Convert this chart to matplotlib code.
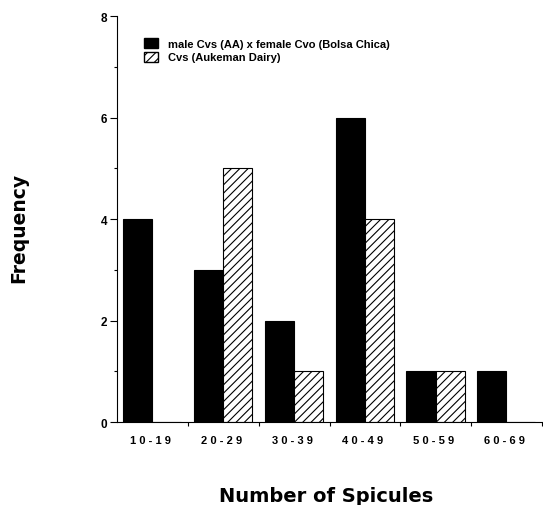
import matplotlib
matplotlib.use('Agg')
import matplotlib.pyplot as plt
import numpy as np
from matplotlib.patches import Patch

# data
ranges = ['10-19', '20-29', '30-39', '40-49', '50-59', '60-69']
hybrid = [4, 3, 2, 6, 1, 1]        # male Cvs (AA) x female Cvo (Bolsa Chica)
aukeman = [0, 5, 1, 4, 1, 0]       # Cvs (Aukeman Dairy)

plt.rcParams['font.family'] = ['Liberation Sans', 'DejaVu Sans']
plt.rcParams['font.weight'] = 'bold'
plt.rcParams['hatch.linewidth'] = 0.8

fig = plt.figure(figsize=(5.43, 5.06), dpi=100)
ax = fig.add_axes([0.2155, 0.164, 0.783, 0.802])

x = np.arange(len(ranges))
w = 0.41
off = 0.085
ax.bar(x + off, hybrid, width=w, align='edge', color='black', edgecolor='black', lw=0.8)
ax.bar(x + off + w, aukeman, width=w, align='edge', color='white', edgecolor='black',
       hatch='////', lw=0.8)

ax.set_xlim(0, 6)
ax.set_ylim(0, 8)
ax.spines['top'].set_visible(False)
ax.spines['right'].set_visible(False)

# y ticks
ax.set_yticks([0, 2, 4, 6, 8])
ax.set_yticks([1, 3, 5, 7], minor=True)
ax.tick_params(axis='y', which='major', length=5, width=0.8, labelsize=8.5, pad=2)
ax.tick_params(axis='y', which='minor', length=2, width=0.8)

# x labels centred in each group, small ticks at group boundaries
ax.set_xticks(x + 0.47)
ax.set_xticklabels([' '.join(r) for r in ranges], fontsize=8)
ax.tick_params(axis='x', which='major', length=0, pad=9)
ax.set_xticks(np.arange(1, 7), minor=True)
ax.tick_params(axis='x', which='minor', length=3, width=0.8, direction='out')

fig.text(0.601, 0.018, 'Number of Spicules', ha='center', va='center', fontsize=14,
         fontweight='bold', family='DejaVu Sans')
fig.text(0.034, 0.549, 'Frequency', ha='center', va='center', rotation=90, fontsize=13.5,
         fontweight='bold', family='DejaVu Sans')

handles = [Patch(facecolor='black', edgecolor='black'),
           Patch(facecolor='white', edgecolor='black', hatch='////')]
ax.legend(handles, ['male Cvs (AA) x female Cvo (Bolsa Chica)', 'Cvs (Aukeman Dairy)'],
          loc='upper left', bbox_to_anchor=(0.063, 0.946), frameon=False, fontsize=8,
          handlelength=1.3, handleheight=1.0, handletextpad=0.9, labelspacing=0.25,
          borderaxespad=0, borderpad=0)

fig.savefig('out.png', dpi=100, facecolor='white')
